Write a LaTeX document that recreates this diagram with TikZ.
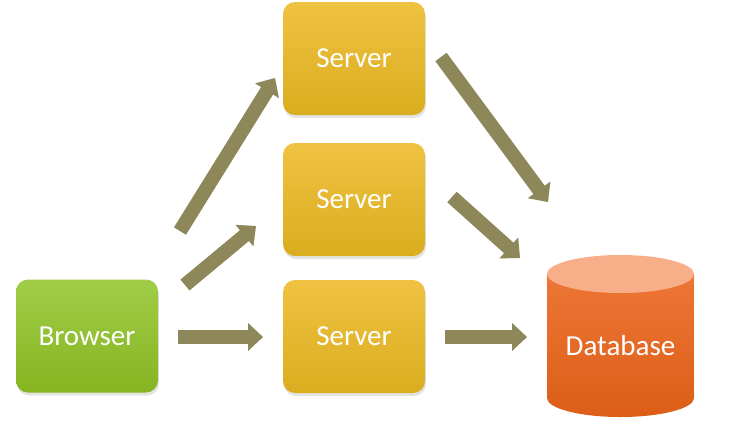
\documentclass[tikz,border=0pt]{standalone}
\usepackage{fontspec}
\setmainfont{Carlito}
\usetikzlibrary{arrows.meta,shadows}
\definecolor{arr}{HTML}{8E8759}
\definecolor{arrsh}{HTML}{DCDAD2}
\definecolor{grT}{HTML}{A0CD47}
\definecolor{grB}{HTML}{86B422}
\definecolor{srvT}{HTML}{F0C242}
\definecolor{srvB}{HTML}{DAAD1F}
\definecolor{dbT}{HTML}{ED7636}
\definecolor{dbB}{HTML}{DC5E17}
\definecolor{dbTop}{HTML}{F8AE88}
\begin{document}
\begin{tikzpicture}[x=1pt,y=-1pt]
\useasboundingbox (0,0) rectangle (747,424);
\tikzset{
  lbl/.style={text=white, font=\fontsize{29}{34}\selectfont, inner sep=0pt},
  box/.style={lbl, rounded corners=12pt, minimum width=142pt, minimum height=113pt,
    drop shadow={opacity=0.22, shadow xshift=1pt, shadow yshift=-3pt}},
  srv/.style={box, top color=srvT, bottom color=srvB},
  brw/.style={box, top color=grT, bottom color=grB},
  blk/.style={line width=14pt, arr, -{Triangle[length=15pt,width=27pt]}},
  blksh/.style={line width=14pt, arrsh, -{Triangle[length=15pt,width=27pt]}, shift={(1.5,2.5)}}
}
% nodes
\node[brw] (browser) at (87,336) {Browser};
\node[srv] (s1) at (354,58.5) {Server};
\node[srv] (s2) at (354,199.5) {Server};
\node[srv] (s3) at (354,336.5) {Server};
% database cylinder
\fill[black, opacity=0.18] (547,278) -- (547,400) arc[start angle=180, end angle=360, x radius=73.5, y radius=19] -- (694,278) -- cycle;
\shade[top color=dbT, bottom color=dbB] (547,274) -- (547,398) arc[start angle=180, end angle=360, x radius=73.5, y radius=-19] -- (694,274) -- cycle;
\fill[dbTop] (620.5,274) ellipse[x radius=73.5, y radius=19];
\node[lbl] (db) at (620.5,346) {Database};
% arrow end points
\coordinate (a1t) at (180,231); \coordinate (a1h) at (275,78);
\coordinate (a2t) at (185,285); \coordinate (a2h) at (256,226);
\coordinate (a3t) at (178,337); \coordinate (a3h) at (263,337);
\coordinate (a4t) at (441,57);  \coordinate (a4h) at (548,202);
\coordinate (a5t) at (452,197); \coordinate (a5h) at (520,258);
\coordinate (a6t) at (445,337); \coordinate (a6h) at (527,337);
\foreach \a in {1,...,6}{
  \draw[blksh] (a\a t) -- (a\a h);
}
\foreach \a in {1,...,6}{
  \draw[blk] (a\a t) -- (a\a h);
}
\end{tikzpicture}
\end{document}
